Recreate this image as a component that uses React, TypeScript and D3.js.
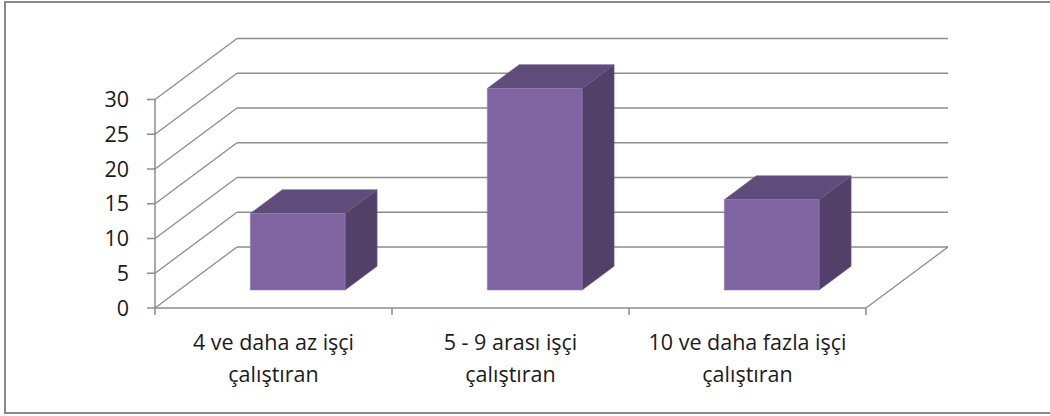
import React from "react";
import * as d3 from "d3";

const categories = ["4 ve daha az işçi|çalıştıran", "5 - 9 arası işçi|çalıştıran", "10 ve daha fazla işçi|çalıştıran"];
const values = [11, 29, 13];
const yTicks = [0, 5, 10, 15, 20, 25, 30];

const W = 1050;
const H = 416;
const DX = 82;
const DY = -61;
const FONT = "'Open Sans', 'Liberation Sans', sans-serif";

export default function App() {
  const x = d3.scaleBand<string>().domain(categories).range([155, 866]);
  const y = d3.scaleLinear().domain([0, 30]).range([308, 99.5]);
  const step = x.step();
  const barW = step * 0.4;
  const f0 = 0.295;
  const f1 = 0.685;

  const pt = (px: number, py: number, f: number) => [px + DX * f, py + DY * f];
  const poly = (pts: number[][]) => pts.map((p) => p.join(",")).join(" ");

  const grid = "#8c8c8c";

  return (
    <svg width={W} height={H} style={{ position: "absolute", left: 0, top: 0, background: "#fff" }}>
      <rect x={5} y={2} width={1060} height={411} fill="#fff" stroke="#898989" strokeWidth={2} />
      {/* back wall gridlines and left wall diagonals */}
      {yTicks.map((t) => (
        <g key={t}>
          <line x1={155 + DX} x2={866 + DX} y1={y(t) + DY} y2={y(t) + DY} stroke={grid} strokeWidth={1.5} />
          <line x1={155} x2={155 + DX} y1={y(t)} y2={y(t) + DY} stroke={grid} strokeWidth={1.3} />
          <line x1={147} x2={155} y1={y(t)} y2={y(t)} stroke={grid} strokeWidth={1.5} />
          <text x={129} y={y(t)} dy="0.36em" textAnchor="end" fontFamily={FONT} fontSize={21.5} fill="#1a1a1a">
            {t}
          </text>
        </g>
      ))}
      {/* floor */}
      <line x1={866} y1={y(0)} x2={866 + DX} y2={y(0) + DY} stroke={grid} strokeWidth={1.3} />
      <line x1={155} y1={y(0)} x2={866} y2={y(0)} stroke={grid} strokeWidth={1.5} />
      <line x1={155} y1={y(30)} x2={155} y2={y(0)} stroke={grid} strokeWidth={1.5} />
      {[0, 1, 2, 3].map((i) => (
        <line key={i} x1={155 + step * i} x2={155 + step * i} y1={y(0)} y2={y(0) + 7} stroke={grid} strokeWidth={1.5} />
      ))}
      {/* bars */}
      {categories.map((c, i) => {
        const cx = (x(c) as number) + step / 2;
        const xl = cx - barW / 2;
        const xr = cx + barW / 2;
        const yb = y(0);
        const yt = y(values[i]);
        const A = pt(xl, yt, f0);
        const B = pt(xr, yt, f0);
        const C = pt(xr, yb, f0);
        const D = pt(xl, yb, f0);
        const Bt = pt(xr, yt, f1);
        const At = pt(xl, yt, f1);
        const Cb = pt(xr, yb, f1);
        return (
          <g key={c}>
            <polygon points={poly([B, Bt, Cb, C])} fill="#524068" stroke="#6a5a82" strokeWidth={0.6} />
            <polygon points={poly([A, At, Bt, B])} fill="#604c7b" stroke="#6a5a82" strokeWidth={0.6} />
            <polygon points={poly([A, B, C, D])} fill="#8064a2" stroke="#9580b2" strokeWidth={0.6} />
          </g>
        );
      })}
      {/* category labels */}
      {categories.map((c) => {
        const cx = (x(c) as number) + step / 2;
        const lines = c.split("|");
        return (
          <text key={c} x={cx} textAnchor="middle" fontFamily={FONT} fontSize={21.5} fill="#1a1a1a">
            {lines.map((l, j) => (
              <tspan key={j} x={cx} y={350 + j * 32}>
                {l}
              </tspan>
            ))}
          </text>
        );
      })}
    </svg>
  );
}
